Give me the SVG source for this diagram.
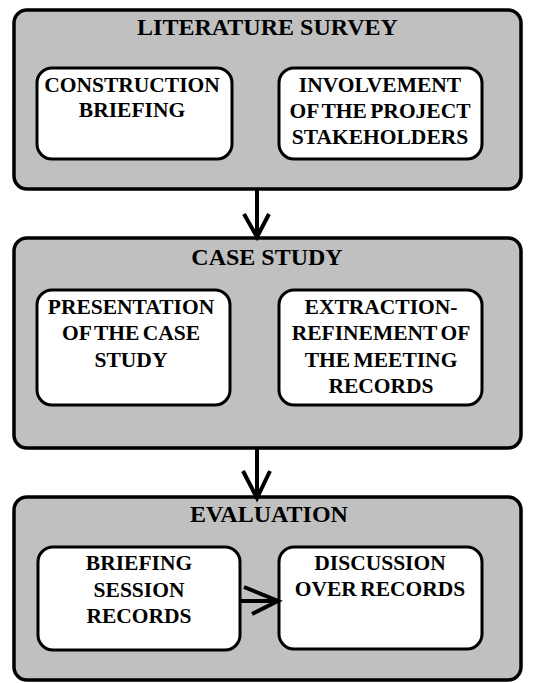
<svg xmlns="http://www.w3.org/2000/svg" width="538" height="683" viewBox="0 0 538 683">
<style>
.outer{fill:#c0c0c0;stroke:#000;stroke-width:3.5}
.inner{fill:#fff;stroke:#000;stroke-width:3}
text{font-family:"Liberation Serif","Times New Roman",Times,serif;font-weight:bold;font-size:21.5px;word-spacing:-2px;fill:#000;text-anchor:middle}
.title{font-size:24px;word-spacing:0}
.conn{fill:none;stroke:#000;stroke-width:4}
</style>
<rect width="538" height="683" fill="#fff"/>
<g id="literature-survey">
<rect class="outer" x="14" y="10" width="507" height="179" rx="13"/>
<text class="title" x="267.5" y="35">LITERATURE SURVEY</text>
</g>
<g id="construction-briefing">
<rect class="inner" x="37" y="68" width="195" height="91" rx="15"/>
<text x="132" y="92">CONSTRUCTION</text>
<text x="132" y="117">BRIEFING</text>
</g>
<g id="involvement">
<rect class="inner" x="279" y="68" width="203" height="91" rx="15"/>
<text x="380" y="92">INVOLVEMENT</text>
<text x="380" y="117.5">OF THE PROJECT</text>
<text x="380" y="143.5">STAKEHOLDERS</text>
</g>
<g id="case-study">
<rect class="outer" x="14" y="238" width="507" height="210" rx="13"/>
<text class="title" x="267" y="265">CASE STUDY</text>
</g>
<g id="presentation">
<rect class="inner" x="37" y="290" width="193" height="115" rx="15"/>
<text x="131" y="313.5">PRESENTATION</text>
<text x="131" y="339.5">OF THE CASE</text>
<text x="131" y="366.5">STUDY</text>
</g>
<g id="extraction">
<rect class="inner" x="279" y="290" width="203" height="115" rx="15"/>
<text x="381" y="313.5">EXTRACTION-</text>
<text x="381" y="339.5">REFINEMENT OF</text>
<text x="381" y="366.5">THE MEETING</text>
<text x="381" y="392.5">RECORDS</text>
</g>
<g id="evaluation">
<rect class="outer" x="14" y="497" width="507" height="183" rx="13"/>
<text class="title" x="269" y="522">EVALUATION</text>
</g>
<g id="briefing-session">
<rect class="inner" x="38" y="547" width="202" height="103" rx="15"/>
<text x="139" y="569.5">BRIEFING</text>
<text x="139" y="596.5">SESSION</text>
<text x="139" y="622.5">RECORDS</text>
</g>
<g id="discussion">
<rect class="inner" x="279" y="547" width="203" height="102" rx="15"/>
<text x="380" y="569.5">DISCUSSION</text>
<text x="380" y="596">OVER RECORDS</text>
</g>
<g id="connectors">
<path class="conn" d="M257 189V236M244 214L257 237L269 214"/>
<path class="conn" d="M257 448V498M243 471L257 498L270 471"/>
<path class="conn" d="M240 601H277M244 587L278 601L252 614"/>
</g>
</svg>
